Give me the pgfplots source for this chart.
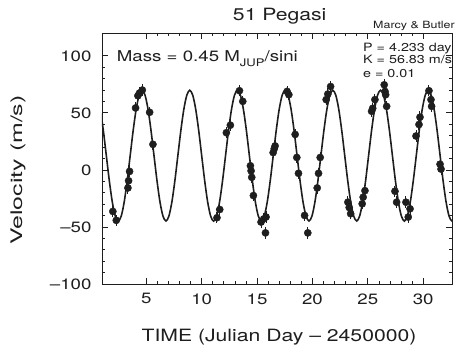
\documentclass[border=0pt]{standalone}
\usepackage{fontspec}
\setmainfont{TeX Gyre Heros}[FakeStretch=1.25]
\usepackage{graphicx}
\usepackage{pgfplots}
\pgfplotsset{compat=1.18}
\definecolor{ink}{HTML}{1E1E1E}
\pgfplotstableread{
t v
0.853 53.02
1.122 34.43
1.391 12.50
1.660 -9.43
1.929 -28.02
2.198 -40.44
2.468 -44.80
2.737 -40.44
3.006 -28.02
3.275 -9.43
3.544 12.50
3.813 34.43
4.082 53.02
4.351 65.44
4.620 69.80
4.889 65.44
5.158 53.02
5.427 34.43
5.696 12.50
5.965 -9.43
6.234 -28.02
6.503 -40.44
6.773 -44.80
7.042 -40.44
7.311 -28.02
7.580 -9.43
7.849 12.50
8.118 34.43
8.387 53.02
8.656 65.44
8.925 69.80
9.194 65.44
9.463 53.02
9.732 34.43
10.001 12.50
10.270 -9.43
10.539 -28.02
10.808 -40.44
11.078 -44.80
11.347 -40.44
11.616 -28.02
11.885 -9.43
12.154 12.50
12.423 34.43
12.692 53.02
12.961 65.44
13.230 69.80
13.499 65.44
13.768 53.02
14.037 34.43
14.306 12.50
14.575 -9.43
14.844 -28.02
15.113 -40.44
15.383 -44.80
15.652 -40.44
15.921 -28.02
16.190 -9.43
16.459 12.50
16.728 34.43
16.997 53.02
17.266 65.44
17.535 69.80
17.804 65.44
18.073 53.02
18.342 34.43
18.611 12.50
18.880 -9.43
19.149 -28.02
19.418 -40.44
19.688 -44.80
19.957 -40.44
20.226 -28.02
20.495 -9.43
20.764 12.50
21.033 34.43
21.302 53.02
21.571 65.44
21.840 69.80
22.109 65.44
22.378 53.02
22.647 34.43
22.916 12.50
23.185 -9.43
23.454 -28.02
23.723 -40.44
23.993 -44.80
24.262 -40.44
24.531 -28.02
24.800 -9.43
25.069 12.50
25.338 34.43
25.607 53.02
25.876 65.44
26.145 69.80
26.414 65.44
26.683 53.02
26.952 34.43
27.221 12.50
27.490 -9.43
27.759 -28.02
28.028 -40.44
28.298 -44.80
28.567 -40.44
28.836 -28.02
29.105 -9.43
29.374 12.50
29.643 34.43
29.912 53.02
30.181 65.44
30.450 69.80
30.719 65.44
30.988 53.02
31.257 34.43
31.526 12.50
31.795 -9.43
32.064 -28.02
32.333 -40.44
32.603 -44.80
32.872 -40.44
}\fitcurve
\pgfplotstableread{
t v
1.98 -36.4
2.29 -44.2
3.34 -15.8
3.40 -9.5
3.49 -1.3
4.03 54.3
4.24 65.0
4.39 67.4
4.64 70.0
5.30 50.5
5.60 22.4
11.38 -41.9
11.63 -34.7
12.23 32.6
12.59 39.2
13.41 69.4
13.71 60.1
14.40 3.6
14.46 -0.8
14.52 -6.5
14.67 -22.5
15.36 -45.7
15.60 -43.0
15.81 -41.3
15.76 -55.2
16.45 15.2
16.55 18.5
16.63 21.0
17.71 68.8
17.87 65.9
18.44 31.1
18.59 10.9
18.74 -3.0
19.29 -39.9
19.58 -55.2
20.43 -15.8
20.55 -3.0
20.70 10.9
21.24 61.6
21.39 66.5
21.64 73.1
23.20 -28.3
23.32 -33.0
23.45 -38.4
24.49 -29.7
24.58 -23.9
24.74 -18.2
25.34 51.4
25.44 54.0
25.64 61.6
26.48 74.6
26.55 68.8
26.61 65.9
26.70 55.7
27.45 -18.7
27.60 -28.3
28.44 -28.3
28.65 -41.3
28.81 -34.1
29.35 29.7
29.62 39.8
29.71 46.2
30.52 69.4
30.70 61.6
30.76 55.7
31.52 5.0
31.61 0.7
}\rvdata
\begin{document}
\begin{tikzpicture}
\begin{axis}[
  scale only axis, width=350bp, height=251bp,
  xmin=1, xmax=32.6, ymin=-100, ymax=120,
  xtick={5,10,15,20,25,30},
  ytick={-100,-50,0,50,100},
  yticklabels={\textendash100,\textendash50,0,50,100},
  minor x tick num=4, minor y tick num=4,
  tick align=inside,
  major tick length=6bp, minor tick length=3.2bp,
  every tick/.style={line width=0.8bp, ink},
  axis line style={line width=0.9bp, ink},
  tick label style={font=\fontsize{15}{18}\selectfont, text=ink},
  xticklabel style={anchor=north},
  xticklabel shift=6bp,
  yticklabel style={anchor=east},
  yticklabel shift=7bp,
  /pgf/number format/assume math mode=true,
]
\addplot[smooth, line width=1.6bp, ink] table[x=t, y=v] {\fitcurve};
\addplot[only marks, mark=*, mark size=3.6bp, ink,
  error bars/.cd, y dir=both, y fixed=5, error mark=none,
  error bar style={line width=1bp, ink}] table[x=t, y=v] {\rvdata};
\end{axis}
\node[anchor=base, font=\fontsize{17}{20}\selectfont, text=ink] at ([shift={(177.7bp,12.3bp)}]current axis.north west) {51 Pegasi};
\node[anchor=base east, font=\fontsize{10}{12}\selectfont, text=ink, inner sep=0pt] at ([shift={(3bp,4bp)}]current axis.north east) {Marcy \& Butler};
\node[anchor=base west, font=\fontsize{15}{18}\selectfont, text=ink, inner sep=0pt] at ([shift={(14.7bp,-29bp)}]current axis.north west) {Mass = 0.45 M\raisebox{-0.3em}{\fontsize{10.5}{12}\selectfont JUP}/sini};
\node[anchor=base west, font=\fontsize{11.5}{13}\selectfont, text=ink, inner sep=0pt] at ([shift={(261bp,-19bp)}]current axis.north west) {P = 4.233 day};
\node[anchor=base west, font=\fontsize{11.5}{13}\selectfont, text=ink, inner sep=0pt] at ([shift={(261bp,-31bp)}]current axis.north west) {K = 56.83 m/s};
\node[anchor=base west, font=\fontsize{11.5}{13}\selectfont, text=ink, inner sep=0pt] at ([shift={(261bp,-45bp)}]current axis.north west) {e = 0.01};
\node[anchor=base, font=\fontsize{17}{20}\selectfont, text=ink, inner sep=0pt] at ([shift={(177bp,-57bp)}]current axis.south west) {TIME (Julian Day \textendash{} 2450000)};
\node[rotate=90, anchor=center, font=\fontsize{16}{19}\selectfont, text=ink, inner sep=0pt] at ([shift={(-84bp,114bp)}]current axis.south west) {\scalebox{1.25}[1]{Velocity (m/s)}};
\pgfresetboundingbox
\path[use as bounding box] ([shift={(-102bp,-70bp)}]current axis.south west) rectangle ([shift={(5bp,33bp)}]current axis.north east);
\end{tikzpicture}
\end{document}
